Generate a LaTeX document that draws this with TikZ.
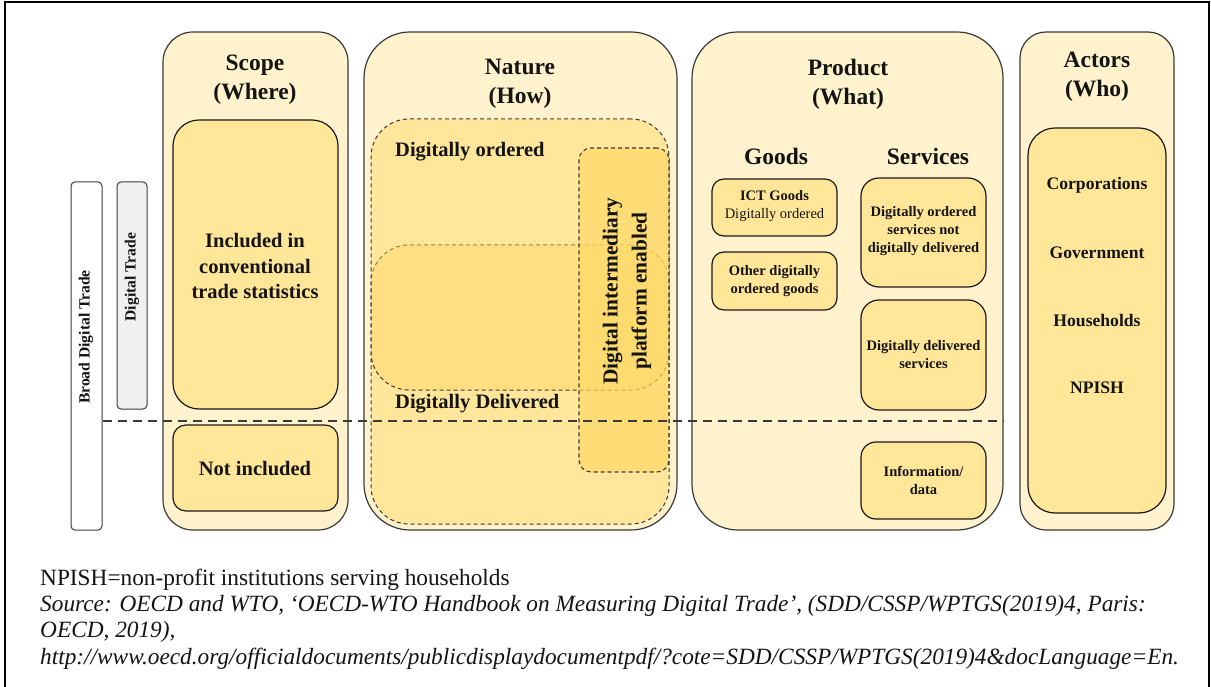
\documentclass[tikz,border=0pt]{standalone}
\usepackage{fontspec}
\setmainfont{Liberation Serif}
\usetikzlibrary{fit}
\definecolor{cream}{HTML}{FFF2CC}
\definecolor{gold}{HTML}{FFE699}
\definecolor{deep}{HTML}{FFD966}
\definecolor{edge}{HTML}{3A3A3A}
\definecolor{ink}{HTML}{141414}
\newcommand{\fsz}[2]{\fontsize{#1}{#2}\selectfont}
\begin{document}
\begin{tikzpicture}[x=1pt,y=-1pt,
  frameline/.style={line width=2.5pt, draw=black},
  outerbox/.style={draw=edge, line width=1.2pt, fill=cream, rounded corners=#1, inner sep=0pt},
  innerbox/.style={draw=black!90, line width=1.2pt, fill=gold, rounded corners=#1, inner sep=0pt},
  sidebox/.style={draw=edge, line width=1pt, rounded corners=4pt, inner sep=0pt},
  dashbox/.style={draw=edge, dash pattern=on 4pt off 3pt, line width=1pt, fill=deep, fill opacity=0.48, rounded corners=#1, inner sep=0pt},
  platbox/.style={draw=edge, dash pattern=on 4pt off 3pt, line width=1.1pt, fill=deep, fill opacity=0.7, rounded corners=12pt, inner sep=0pt},
  divider/.style={draw=edge, dash pattern=on 9pt off 6pt, line width=1.5pt},
  title/.style={font=\bfseries\fsz{23.5}{29}, align=center, text=ink, inner sep=0pt},
  body/.style={font=\bfseries\fsz{20.5}{25.5}, align=center, text=ink, inner sep=0pt},
  small/.style={font=\bfseries\fsz{14.5}{18}, align=center, text=ink, inner sep=0pt},
  actor/.style={font=\bfseries\fsz{17.6}{20}, align=center, text=ink, inner sep=0pt},
  side/.style={font=\bfseries\fsz{15.6}{18}, text=ink, rotate=90, inner sep=0pt},
  note/.style={font=\fsz{23.3}{26}, text=ink, anchor=base west, inner sep=0pt},
  notei/.style={note, font=\itshape\fsz{23.3}{26}}
]
\useasboundingbox (0,0) rectangle (1211,687);
\fill[white] (0,0) rectangle (1211,687);
% frame
\draw[frameline] (5,687) -- (5,2) -- (1209,2) -- (1209,687);

% side bars
\node[sidebox, fill=white, fit={(71,182)(102,530)}] (broad) {};
\node[sidebox, fill=black!6, fit={(117,182)(147,409)}] (dtrade) {};
\node[side] (broadt) at (86,337) {Broad Digital Trade};
\node[side] (dtradet) at (132,277) {Digital Trade};

% Scope
\node[outerbox=30pt, fit={(163,32)(348,530)}] (scope) {};
\node[title] (scopet) at (255,80) {Scope\\(Where)};
\node[innerbox=26pt, fit={(173,120)(338,409)}] (incl) {};
\node[body] (inclt) at (255,266) {Included in\\conventional\\trade statistics};
\node[innerbox=13pt, fit={(173,425)(338,511)}] (notincl) {};
\node[body] (notinclt) at (255,469) {Not included};

% Nature
\node[outerbox=46pt, fit={(364,32)(677,530)}] (nature) {};
\node[title] (naturet) at (520,84) {Nature\\(How)};
\node[dashbox=38pt, fit={(371,245)(669,524)}] (deliv) {};
\node[dashbox=38pt, fit={(371,119)(669,390)}] (order) {};
\node[platbox, fit={(579,148)(669,472)}] (plat) {};
\node[body, anchor=west] (ordert) at (395,152) {Digitally ordered};
\node[body, anchor=west] (delivt) at (395,404) {Digitally Delivered};
\node[body, font=\bfseries\fsz{21.4}{29}, rotate=90] (platt) at (627,291) {Digital intermediary\\platform enabled};

% Product
\node[outerbox=46pt, fit={(692,32)(1003,530)}] (product) {};
\node[title] (productt) at (848,84) {Product\\(What)};
\node[title] (goods) at (776,156) {Goods};
\node[title] (services) at (928,156) {Services};
\node[innerbox=12pt, fit={(712,179)(837,236)}] (ict) {};
\node[small] (ictt) at (774.5,206) {ICT Goods\\\mdseries Digitally ordered};
\node[innerbox=12pt, fit={(712,252)(837,310)}] (other) {};
\node[small] (othert) at (774.5,281) {Other digitally\\ordered goods};
\node[innerbox=18pt, fit={(861,178)(986,287)}] (svc1) {};
\node[small] (svc1t) at (923.5,231) {Digitally ordered\\services not\\digitally delivered};
\node[innerbox=18pt, fit={(861,300)(986,410)}] (svc2) {};
\node[small] (svc2t) at (923.5,355) {Digitally delivered\\services};
\node[innerbox=15pt, fit={(861,442)(986,519)}] (info) {};
\node[small] (infot) at (923.5,480) {Information/\\data};

% Actors
\node[outerbox=26pt, fit={(1020,32)(1174,530)}] (actors) {};
\node[title] (actorst) at (1097,77) {Actors\\(Who)};
\node[innerbox=27pt, fit={(1028,128)(1166,513)}] (actin) {};
\node[actor] (corp) at (1097,185) {Corporations};
\node[actor] (gov) at (1097,253) {Government};
\node[actor] (hh) at (1097,321) {Households};
\node[actor] (npish) at (1097,388) {NPISH};

% divider
\coordinate (dy) at (0,421);
\draw[divider] (broad.east |- dy) -- (product.east |- dy);

% notes
\node[note] (n1) at (40,585) {NPISH=non-profit institutions serving households};
\node[notei] (n2) at (40,611) {Source: OECD and WTO, ‘OECD-WTO Handbook on Measuring Digital Trade’, (SDD/CSSP/WPTGS(2019)4, Paris:};
\node[notei] (n3) at (40,637.5) {OECD, 2019),};
\node[notei] (n4) at (40,664) {http://www.oecd.org/officialdocuments/publicdisplaydocumentpdf/?cote=SDD/CSSP/WPTGS(2019)4\&docLanguage=En.};
\end{tikzpicture}
\end{document}
